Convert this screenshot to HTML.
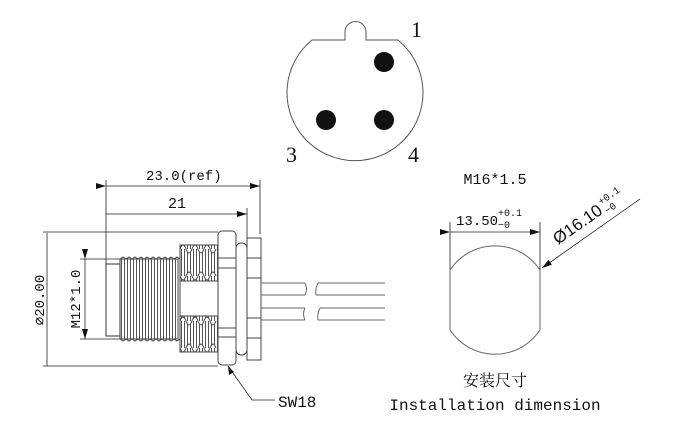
<!DOCTYPE html>
<html><head><style>
html,body{margin:0;padding:0;background:#fff;}
svg{display:block;}
text{font-family:"Liberation Mono","Noto Serif CJK SC",monospace;fill:#111;}
</style></head><body>
<svg width="680" height="440" viewBox="0 0 680 440" xmlns="http://www.w3.org/2000/svg">
<defs>
<marker id="ar" markerWidth="10" markerHeight="6" refX="10" refY="3" orient="auto" markerUnits="userSpaceOnUse">
<path d="M0,0 L10,3 L0,6 Z" fill="#111"/></marker>
<pattern id="thr" width="3" height="10" patternUnits="userSpaceOnUse">
<line x1="1.5" y1="0" x2="1.5" y2="10" stroke="#555" stroke-width="1"/></pattern>
</defs>
<g fill="none" stroke="#555" stroke-width="1">
<path d="M312,40 L345,40 L345,32 A10.5,10.5 0 0 1 366,32 L366,40 L398,40 A68,68 0 1 1 312,40 Z"/>
</g>
<circle cx="384" cy="62" r="10" fill="#111"/>
<circle cx="326" cy="120" r="10" fill="#111"/>
<circle cx="384" cy="120" r="10" fill="#111"/>
<text x="411" y="37" font-size="22" style="font-family:'Liberation Serif',serif">1</text>
<text x="286" y="162" font-size="22" style="font-family:'Liberation Serif',serif">3</text>
<text x="408" y="162" font-size="22" style="font-family:'Liberation Serif',serif">4</text>

<g stroke="#222" stroke-width="0.8" fill="none">
<line x1="106" y1="180" x2="106" y2="265"/>
<line x1="260" y1="180" x2="260" y2="234"/>
<line x1="247" y1="208" x2="247" y2="238"/>
<line x1="106" y1="186" x2="260" y2="186" marker-start="url(#ar)" marker-end="url(#ar)"/>
<line x1="106" y1="214" x2="247" y2="214" marker-end="url(#ar)"/>
<line x1="43" y1="232" x2="218" y2="232"/>
<line x1="43" y1="366" x2="218" y2="366"/>
<line x1="47" y1="233" x2="47" y2="366"/>
<line x1="80" y1="259" x2="120" y2="259"/>
<line x1="80" y1="339" x2="120" y2="339"/>
<line x1="85" y1="259" x2="85" y2="339" marker-start="url(#ar)" marker-end="url(#ar)"/>
</g>
<text x="146" y="180" font-size="14">23.0(ref)</text>
<text x="168" y="208" font-size="15">21</text>
<text transform="translate(44,300) rotate(-90)" font-size="14" text-anchor="middle">⌀20.00</text>
<text transform="translate(80,299) rotate(-90)" font-size="14" text-anchor="middle">M12*1.0</text>

<g stroke="#444" stroke-width="1">
<rect x="120" y="259" width="58" height="80" fill="url(#thr)"/>
<path d="M120,259 l3,-2 l3,2 l3,-2 l3,2 l3,-2 l3,2 l3,-2 l3,2 l3,-2 l3,2 l3,-2 l3,2 l3,-2 l3,2 l3,-2 l3,2 l3,-2 l3,2 l3,-2 l3,2 M120,339 l3,2 l3,-2 l3,2 l3,-2 l3,2 l3,-2 l3,2 l3,-2 l3,2 l3,-2 l3,2 l3,-2 l3,2 l3,-2 l3,2 l3,-2 l3,2 l3,-2 l3,2 l3,-2" fill="none"/>
<rect x="106" y="264" width="14" height="72" fill="#fff" stroke="#333"/>
<rect x="180" y="245" width="38" height="36" fill="url(#thr)"/>
<rect x="180" y="316" width="38" height="36" fill="url(#thr)"/>
<path d="M180,249 q3,-8 6,0 q3,8 6,0 q3,-8 6,0 q3,8 6,0 q3,-8 6,0 q3,8 6,0 M180,276 q3,8 6,0 q3,-8 6,0 q3,8 6,0 q3,-8 6,0 q3,8 6,0 q3,-8 6,0 M180,321 q3,-8 6,0 q3,8 6,0 q3,-8 6,0 q3,8 6,0 q3,-8 6,0 q3,8 6,0 M180,348 q3,8 6,0 q3,-8 6,0 q3,8 6,0 q3,-8 6,0 q3,8 6,0 q3,-8 6,0" fill="#fff"/>
<rect x="180" y="281" width="38" height="35" fill="#fff"/>
<rect x="218" y="231" width="18" height="134" rx="4" fill="#fff"/>
<line x1="218" y1="258" x2="236" y2="258"/><line x1="218" y1="268" x2="236" y2="268"/>
<line x1="218" y1="328" x2="236" y2="328"/><line x1="218" y1="337" x2="236" y2="337"/>
<rect x="236" y="243" width="11" height="112" rx="5" fill="#fff"/>
<rect x="247" y="238" width="14" height="122" fill="#fff"/>
<line x1="247" y1="258" x2="261" y2="258"/><line x1="247" y1="278" x2="261" y2="278"/>
<line x1="247" y1="318" x2="261" y2="318"/><line x1="247" y1="338" x2="261" y2="338"/>
<g stroke="#666" fill="none">
<path d="M261,283 L305,283 M261,295 L305,295 M261,308 L305,308 M261,320 L305,320"/>
<path d="M305,283 q3,6 0,12 M305,308 q-3,6 0,12"/>
<path d="M318,283 L385,283 M316,295 L385,295 M320,308 L385,308 M318,320 L385,320"/>
<path d="M318,283 q-3,6 -2,12 M320,308 q-3,6 -2,12"/>
</g>
</g>
<polyline points="228,366 252,400 275,400" fill="none" stroke="#222" stroke-width="0.8"/>
<path d="M228,366 l1,9 l5,-3 Z" fill="#111"/>
<text x="278" y="407" font-size="16">SW18</text>

<text x="495" y="184" font-size="15" text-anchor="middle">M16*1.5</text>
<text x="456" y="225" font-size="14">13.50</text>
<text x="498" y="216" font-size="10">+0.1</text>
<text x="498" y="228" font-size="10">−0</text>
<g stroke="#222" stroke-width="0.8" fill="none">
<line x1="450" y1="222" x2="450" y2="272"/>
<line x1="540" y1="222" x2="540" y2="272"/>
<line x1="450" y1="232" x2="540" y2="232" marker-start="url(#ar)" marker-end="url(#ar)"/>
<line x1="640" y1="199" x2="542" y2="268" marker-end="url(#ar)"/>
</g>
<path d="M450,270 A54,54 0 0 1 540,270 L540,330 A54,54 0 0 1 450,330 Z" fill="none" stroke="#666" stroke-width="1"/>
<g transform="translate(558,245) rotate(-35)">
<text x="0" y="0" font-size="17" style="font-family:'Liberation Sans',sans-serif">Ø16.10</text>
<text x="58" y="-8" font-size="10">+0.1</text>
<text x="58" y="3" font-size="10">−0</text>
</g>
<text x="495" y="386" font-size="16" text-anchor="middle" style="font-family:'Liberation Serif','Noto Serif CJK SC',serif">安装尺寸</text>
<text x="495" y="410" font-size="16" text-anchor="middle">Installation dimension</text>
</svg>
</body></html>
